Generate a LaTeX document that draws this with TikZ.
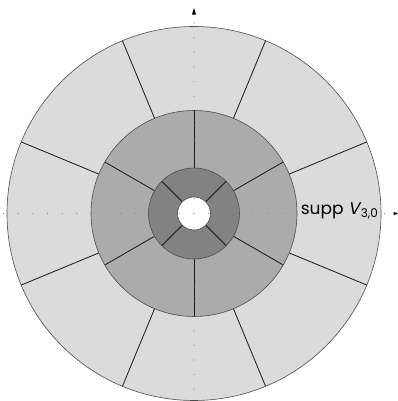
\documentclass[tikz,border=0pt]{standalone}
\usepackage{fontspec}
\usetikzlibrary{calc}
\newfontfamily\lblfont{Poppins}
\newfontfamily\lblitfont{Poppins}[FakeSlant=0.2]
\begin{document}
\begin{tikzpicture}[x=1pt,y=1pt,
  ringedge/.style={draw=black!70,line width=0.6pt},
  segline/.style={draw=black!90,line width=0.8pt},
  axisdot/.style={fill=black!45},
  tipstyle/.style={fill=black}]
\useasboundingbox (0,0) rectangle (398,401);
\coordinate (C) at (194,187.5);
% outer ring
\fill[black!14] (C) circle (187);
\draw[ringedge] (C) circle (187);
\foreach \a in {22.5,67.5,...,337.5}
  \draw[segline] ($(C)+(\a:103)$) -- ($(C)+(\a:187)$);
% middle ring
\fill[black!33] (C) circle (103);
\draw[ringedge] (C) circle (103);
\foreach \a in {30,90,...,330}
  \draw[segline] ($(C)+(\a:45.5)$) -- ($(C)+(\a:103)$);
% inner ring
\fill[black!49] (C) circle (45.5);
\draw[ringedge] (C) circle (45.5);
\foreach \a in {45,135,225,315}
  \draw[segline] ($(C)+(\a:16.5)$) -- ($(C)+(\a:45.5)$);
% hole
\fill[white] (C) circle (16.5);
\draw[ringedge] (C) circle (16.5);
% dotted axes
\foreach \k in {-13,...,13}{
  \fill[axisdot] ($(C)+(\k*14.65,0)$) circle (0.6);
}
\foreach \k in {-12,...,13}{
  \fill[axisdot] ($(C)+(0,\k*14.65)$) circle (0.6);
}
% arrow tips
\coordinate (toptip) at (194,393);
\coordinate (righttip) at (398,187.5);
\fill[tipstyle] (toptip) -- ++(-2.1,-6.7) -- ++(4.2,0) -- cycle;
\fill[tipstyle] (righttip) -- ++(-4.5,1.7) -- ++(0,-3.4) -- cycle;
% label
\node[anchor=base east,inner sep=0pt,font=\lblfont\fontsize{17}{20}\selectfont] (lbl) at (378,186.5)
  {supp {\lblitfont V}\kern1.2pt\raisebox{-3.5pt}{\fontsize{12}{14}\selectfont 3,0}};
\end{tikzpicture}
\end{document}
